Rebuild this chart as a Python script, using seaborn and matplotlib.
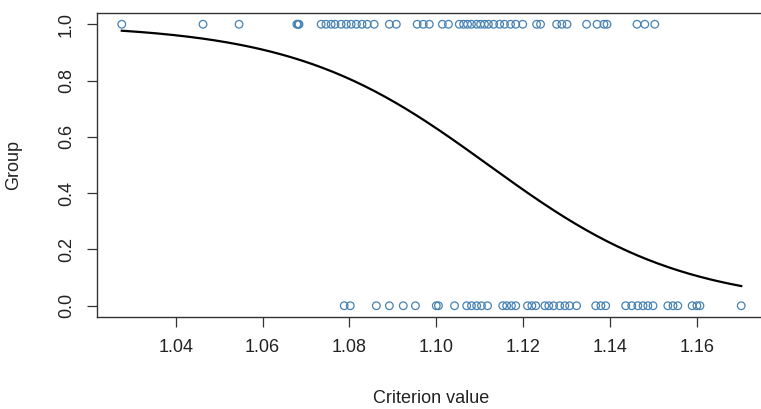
import numpy as np
import pandas as pd
import matplotlib
matplotlib.use("Agg")
import matplotlib.pyplot as plt
import seaborn as sns

# criterion values, split by group
group1_x = [1.0276, 1.0463, 1.0546, 1.0679, 1.0682, 1.0684, 1.0735, 1.0746, 1.0758,
            1.0767, 1.0781, 1.0793, 1.0804, 1.0816, 1.0829, 1.0841, 1.0857, 1.0892,
            1.0908, 1.0956, 1.0970, 1.0984, 1.1014, 1.1028, 1.1053, 1.1063, 1.1072,
            1.1081, 1.1093, 1.1102, 1.1111, 1.1120, 1.1132, 1.1146, 1.1157, 1.1171,
            1.1183, 1.1199, 1.1231, 1.1240, 1.1277, 1.1289, 1.1301, 1.1346, 1.1370,
            1.1386, 1.1393, 1.1462, 1.1480, 1.1503]
group0_x = [1.0788, 1.0802, 1.0862, 1.0892, 1.0924, 1.0952, 1.1000, 1.1005, 1.1042,
            1.1070, 1.1081, 1.1093, 1.1104, 1.1118, 1.1153, 1.1162, 1.1173, 1.1183,
            1.1210, 1.1220, 1.1229, 1.1250, 1.1259, 1.1270, 1.1284, 1.1296, 1.1307,
            1.1323, 1.1367, 1.1379, 1.1390, 1.1436, 1.1450, 1.1464, 1.1476, 1.1487,
            1.1499, 1.1533, 1.1545, 1.1556, 1.1589, 1.1600, 1.1607, 1.1702]

# logistic model coefficients (estimated from the drawn curve)
intercept = 49.44
slope = -44.46

x_ticks = [1.04, 1.06, 1.08, 1.10, 1.12, 1.14, 1.16]
y_ticks = [0.0, 0.2, 0.4, 0.6, 0.8, 1.0]

data = pd.DataFrame({
    "Criterion value": group1_x + group0_x,
    "Group": [1] * len(group1_x) + [0] * len(group0_x),
})

grid = np.linspace(data["Criterion value"].min(), data["Criterion value"].max(), 300)
fit = pd.DataFrame({"x": grid, "p": 1 / (1 + np.exp(-(intercept + slope * grid)))})

plt.rcParams["font.family"] = ["Liberation Sans", "DejaVu Sans"]

fig = plt.figure(figsize=(7.61, 4.09), dpi=100)
ax = fig.add_axes([97 / 761, 1 - 317 / 409, (766 - 97) / 761, (317 - 13) / 409])

sns.scatterplot(data=data, x="Criterion value", y="Group", ax=ax, marker="o",
                facecolor="none", edgecolor="#4682B4", linewidth=0.9, s=30)
sns.lineplot(data=fit, x="x", y="p", ax=ax, color="black", linewidth=1.6)

xmin, xmax = data["Criterion value"].min(), data["Criterion value"].max()
pad = 0.04 * (xmax - xmin)
ax.set_xlim(xmin - pad, xmax + pad)
ax.set_ylim(-0.04, 1.04)
ax.set_xticks(x_ticks)
ax.set_xticklabels([f"{t:.2f}" for t in x_ticks])
ax.set_yticks(y_ticks)
ax.set_yticklabels([f"{t:.1f}" for t in y_ticks], rotation=90, va="center")
ax.tick_params(axis="both", length=7, width=0.9, color="#333333", labelsize=13,
               pad=9, labelcolor="#222222")
for s in ax.spines.values():
    s.set_color("#333333")
    s.set_linewidth(1.0)
ax.set_xlabel("Criterion value", fontsize=13, labelpad=24, color="#222222")
ax.set_ylabel("Group", fontsize=13, labelpad=26, color="#222222")

fig.savefig("out.png", dpi=100)
